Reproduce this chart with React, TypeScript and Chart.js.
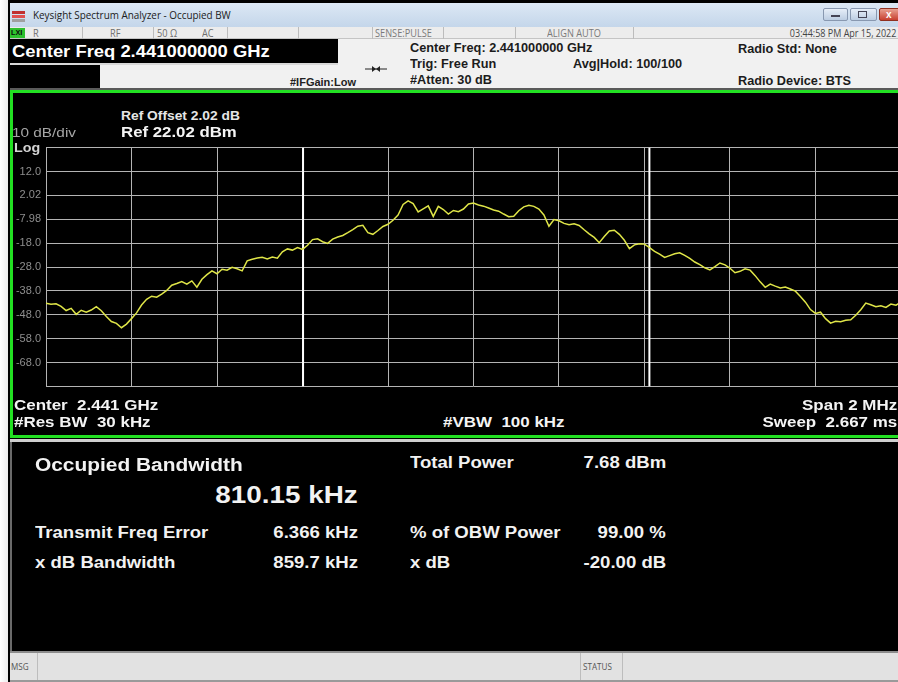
import React, { useEffect, useRef } from "react";
import { Chart, registerables } from "chart.js";

Chart.register(...registerables);

const START_FREQ_MHZ = 2440.0;
const STOP_FREQ_MHZ = 2442.0;
const CENTER_FREQ_MHZ = 2441.0;
const REF_LEVEL_DBM = 22.02;
const BOTTOM_LEVEL_DBM = -77.98;
const X_GRID_MHZ = [2440.0, 2440.2, 2440.4, 2440.6, 2440.8, 2441.0, 2441.2, 2441.4, 2441.6, 2441.8, 2442.0];
const Y_GRID_DBM = [22.02, 12.02, 2.02, -7.98, -17.98, -27.98, -37.98, -47.98, -57.98, -67.98, -77.98];
const Y_TICK_LABELS = ["", "12.0", "2.02", "-7.98", "-18.0", "-28.0", "-38.0", "-48.0", "-58.0", "-68.0", ""];
const OBW_KHZ = 810.15;
const FREQ_ERROR_KHZ = 6.366;

const TRACE_DBM = [
  -43.2, -43.6, -43.4, -44.5, -46.2, -45.3, -47.8, -46.1, -46.9, -46.0,
  -44.6, -46.3, -48.7, -50.8, -51.6, -53.4, -51.9, -49.6, -47.2, -43.9,
  -41.5, -40.2, -40.6, -39.3, -37.8, -35.6, -34.9, -34.1, -35.2, -33.8,
  -36.4, -33.1, -31.2, -29.6, -30.8, -28.9, -29.3, -28.1, -28.7, -29.6,
  -25.4, -24.7, -24.2, -23.9, -24.6, -23.8, -24.3, -21.6, -20.4, -20.9,
  -19.8, -20.6, -18.9, -16.5, -16.2, -17.4, -18.1, -16.3, -15.4, -14.8,
  -13.6, -12.3, -10.9, -10.5, -13.6, -14.3, -12.7, -11.0, -10.1, -8.4,
  -6.2, -1.8, -0.3, -1.4, -4.9, -3.6, -2.4, -6.8, -2.6, -3.9,
  -5.8, -4.3, -4.8, -3.7, -1.6, -1.2, -2.0, -2.5, -3.3, -4.1,
  -4.6, -5.8, -6.9, -6.7, -4.4, -2.8, -2.1, -2.6, -3.7, -6.2,
  -10.9, -8.1, -8.6, -9.7, -10.3, -9.9, -10.6, -12.4, -14.1, -15.6,
  -17.8, -15.2, -12.9, -12.6, -14.3, -16.8, -20.3, -18.7, -18.2, -18.4,
  -19.9, -21.4, -22.6, -24.0, -23.2, -22.4, -22.0, -23.1, -24.4, -25.9,
  -27.0, -28.3, -29.2, -27.8, -26.3, -27.1, -28.5, -30.4, -29.8, -28.7,
  -29.3, -31.6, -34.2, -36.5, -35.1, -36.0, -36.8, -36.4, -37.2, -38.1,
  -40.3, -42.7, -45.8, -47.4, -46.9, -49.6, -51.5, -50.7, -50.9, -50.3,
  -50.1, -48.2, -45.9, -43.1, -43.8, -44.6, -44.2, -44.9, -43.5, -44.0,
  -42.7,
];

const ARIAL = "'Liberation Sans', Arial, sans-serif";
const UI = "'Open Sans', 'Noto Sans', sans-serif";

type TProps = {
  x: number;
  y: number;
  size: number;
  bold?: boolean;
  color?: string;
  right?: boolean;
  sx?: number;
  family?: string;
  children: React.ReactNode;
};

function T({ x, y, size, bold = true, color = "#f2f2f2", right = false, sx = 1.14, family = ARIAL, children }: TProps) {
  const style: React.CSSProperties = {
    position: "absolute",
    top: y - size * 0.5,
    fontSize: size,
    lineHeight: `${size}px`,
    fontWeight: bold ? 700 : 400,
    color,
    fontFamily: family,
    whiteSpace: "nowrap",
    transform: `scaleX(${sx})`,
    transformOrigin: right ? "right center" : "left center",
  };
  if (right) style.right = 898 - x;
  else style.left = x;
  return <div style={style}>{children}</div>;
}

function Box({ l, t, w, h, bg, extra }: { l: number; t: number; w: number; h: number; bg: string; extra?: React.CSSProperties }) {
  return <div style={{ position: "absolute", left: l, top: t, width: w, height: h, background: bg, boxSizing: "border-box", ...extra }} />;
}

export default function App() {
  const ref = useRef<HTMLCanvasElement>(null);

  useEffect(() => {
    const canvas = ref.current;
    if (!canvas) return;
    const step = (STOP_FREQ_MHZ - START_FREQ_MHZ) / (TRACE_DBM.length - 1);
    const trace = TRACE_DBM.map((y, i) => ({ x: START_FREQ_MHZ + i * step, y }));
    const obwCenter = CENTER_FREQ_MHZ + FREQ_ERROR_KHZ / 1000;
    const obwLeft = obwCenter - OBW_KHZ / 2000;
    const obwRight = obwCenter + OBW_KHZ / 2000;
    const vline = (f: number) => [
      { x: f, y: BOTTOM_LEVEL_DBM },
      { x: f, y: REF_LEVEL_DBM },
    ];
    const gridColor = "#b4b4b4";
    const chart = new Chart(canvas, {
      type: "line",
      data: {
        datasets: [
          { data: trace, borderColor: "#dfe548", borderWidth: 1.5, pointRadius: 0, tension: 0 },
          { data: vline(obwLeft), borderColor: "#ffffff", borderWidth: 2, pointRadius: 0 },
          { data: vline(obwRight), borderColor: "#ffffff", borderWidth: 2, pointRadius: 0 },
        ],
      },
      options: {
        animation: false,
        responsive: false,
        maintainAspectRatio: false,
        layout: { padding: { top: 7.5, bottom: 6.5, right: 3, left: 0 } },
        plugins: { legend: { display: false }, tooltip: { enabled: false } },
        scales: {
          x: {
            type: "linear",
            min: START_FREQ_MHZ,
            max: STOP_FREQ_MHZ,
            afterBuildTicks: (s: any) => {
              s.ticks = X_GRID_MHZ.map((v) => ({ value: v }));
            },
            afterFit: (s: any) => {
              s.height = 0;
            },
            ticks: { display: false },
            grid: { color: gridColor, lineWidth: 1, drawTicks: false },
            border: { display: false },
          },
          y: {
            type: "linear",
            min: BOTTOM_LEVEL_DBM,
            max: REF_LEVEL_DBM,
            afterBuildTicks: (s: any) => {
              s.ticks = Y_GRID_DBM.map((v) => ({ value: v }));
            },
            afterFit: (s: any) => {
              s.width = 34;
            },
            ticks: {
              autoSkip: false,
              padding: 5,
              color: "#8e8e8e",
              font: { size: 11, family: ARIAL },
              callback: (v: any) => {
                const i = Y_GRID_DBM.findIndex((l) => Math.abs(l - Number(v)) < 1e-6);
                return i >= 0 ? Y_TICK_LABELS[i] : "";
              },
            },
            grid: { color: gridColor, lineWidth: 1, drawTicks: false },
            border: { display: false },
          },
        },
      },
    });
    return () => chart.destroy();
  }, []);

  const dividers = [82, 153, 227, 298, 372, 443, 515, 633];

  return (
    <div style={{ position: "absolute", left: 0, top: 0, width: 898, height: 682, overflow: "hidden", background: "#f6f6f6" }}>
      {/* left white margin and black frame */}
      <Box l={0} t={0} w={8} h={682} bg="linear-gradient(90deg,#ffffff,#ececec)" />
      <Box l={8} t={0} w={890} h={682} bg="#000" />
      {/* title bar */}
      <Box l={10} t={3} w={888} h={24} bg="linear-gradient(#dce8f5,#c4d6ea)" />
      <Box l={12} t={11} w={13} h={3} bg="#c03030" />
      <Box l={12} t={15} w={13} h={3} bg="#e05050" />
      <Box l={12} t={19} w={13} h={3} bg="#a0a0a0" />
      <T x={33} y={15} size={11.5} bold={false} color="#202020" family={UI} sx={0.86}>
        Keysight Spectrum Analyzer - Occupied BW
      </T>
      <Box l={823} t={8} w={25} h={13} bg="linear-gradient(#e6eef8,#bccde2)" extra={{ border: "1px solid #8898b0", borderRadius: 2 }} />
      <Box l={831} t={15} w={9} h={2} bg="#445" />
      <Box l={850} t={8} w={27} h={13} bg="linear-gradient(#e6eef8,#bccde2)" extra={{ border: "1px solid #8898b0", borderRadius: 2 }} />
      <Box l={858} t={11} w={9} h={7} bg="transparent" extra={{ border: "1px solid #445" }} />
      <Box l={879} t={8} w={22} h={13} bg="linear-gradient(#e8a090,#c84030)" extra={{ border: "1px solid #903020", borderRadius: 2 }} />
      <T x={886} y={14.5} size={10} color="#ffffff" sx={1}>x</T>
      {/* status row */}
      <Box l={10} t={27} w={888} h={12} bg="#ececec" extra={{ borderBottom: "1px solid #c4c4c4" }} />
      {dividers.map((d) => (
        <Box key={d} l={d} t={27} w={1} h={12} bg="#bcbcbc" />
      ))}
      <Box l={10} t={28} w={15} h={10} bg="#2ec02e" />
      <T x={11} y={33.3} size={8} color="#0a0a0a" sx={0.9}>LXI</T>
      <T x={33} y={33} size={10} bold={false} color="#6e6e6e" family={UI} sx={0.92}>R</T>
      <T x={110} y={33} size={10} bold={false} color="#6e6e6e" family={UI} sx={0.92}>RF</T>
      <T x={157} y={33} size={10} bold={false} color="#6e6e6e" family={UI} sx={0.92}>50 Ω</T>
      <T x={202} y={33} size={10} bold={false} color="#6e6e6e" family={UI} sx={0.92}>AC</T>
      <T x={375} y={33} size={10} bold={false} color="#7a7a7a" family={UI} sx={0.92}>SENSE:PULSE</T>
      <T x={547} y={33} size={10} bold={false} color="#7a7a7a" family={UI} sx={0.92}>ALIGN AUTO</T>
      <T x={896} y={33} size={10} bold={false} color="#444" family={UI} sx={0.9} right>
        03:44:58 PM Apr 15, 2022
      </T>
      {/* info panel */}
      <Box l={10} t={39} w={888} h={49} bg="#f1f1f1" />
      <Box l={10} t={39} w={328} h={24} bg="#000" />
      <Box l={10} t={63} w={328} h={2} bg="#d8d8d8" />
      <Box l={10} t={65} w={90} h={23} bg="#000" />
      <Box l={10} t={88} w={888} h={2} bg="#5a5a5a" />
      <T x={12} y={52} size={16} color="#ffffff" sx={1.15}>Center Freq 2.441000000 GHz</T>
      <T x={290} y={82} size={11} color="#222" sx={1.0}>#IFGain:Low</T>
      <svg style={{ position: "absolute", left: 364, top: 64 }} width={24} height={10}>
        <line x1={1} y1={5} x2={23} y2={5} stroke="#222" strokeWidth={1} />
        <polygon points="8,2 12,5 8,8" fill="#222" />
        <polygon points="16,2 12,5 16,8" fill="#222" />
      </svg>
      <T x={410} y={48} size={12} color="#1c1c1c" sx={1.06}>Center Freq: 2.441000000 GHz</T>
      <T x={410} y={64} size={12} color="#1c1c1c" sx={1.06}>Trig: Free Run</T>
      <T x={410} y={80} size={12} color="#1c1c1c" sx={1.06}>#Atten: 30 dB</T>
      <T x={573} y={64} size={12} color="#1c1c1c" sx={1.06}>Avg|Hold: 100/100</T>
      <T x={738} y={49} size={12} color="#1c1c1c" sx={1.06}>Radio Std: None</T>
      <T x={738} y={81} size={12} color="#1c1c1c" sx={1.06}>Radio Device: BTS</T>
      {/* green framed trace window */}
      <Box l={10} t={90} w={900} h={348} bg="#000" extra={{ border: "3px solid #22e022" }} />
      <canvas
        ref={ref}
        width={892}
        height={262}
        style={{ position: "absolute", left: 12, top: 136, width: 892, height: 262, display: "block" }}
      />
      <T x={121} y={116} size={12} color="#e6e6e6" sx={1.15}>Ref Offset 2.02 dB</T>
      <T x={121} y={131} size={15} color="#f4f4f4" sx={1.12}>Ref 22.02 dBm</T>
      <T x={12} y={132} size={13} bold={false} color="#a6a6a6" sx={1.18}>10 dB/div</T>
      <T x={14} y={147} size={13} color="#d4d4d4" sx={1.1}>Log</T>
      <T x={14} y={404} size={15} color="#f4f4f4" sx={1.13}>Center&nbsp; 2.441 GHz</T>
      <T x={14} y={421} size={15} color="#f4f4f4" sx={1.13}>#Res BW&nbsp; 30 kHz</T>
      <T x={443} y={421} size={15} color="#f4f4f4" sx={1.13}>#VBW&nbsp; 100 kHz</T>
      <T x={897} y={404} size={15} color="#f4f4f4" sx={1.13} right>Span 2 MHz</T>
      <T x={897} y={421} size={15} color="#f4f4f4" sx={1.13} right>Sweep&nbsp; 2.667 ms</T>
      {/* lower results panel */}
      <Box l={10} t={439} w={888} h={3} bg="#cfcfcf" />
      <Box l={10} t={442} w={888} h={209} bg="#000" extra={{ borderLeft: "2px solid #6a6a6a" }} />
      <T x={35} y={465} size={18} sx={1.16}>Occupied Bandwidth</T>
      <T x={358} y={495} size={24} sx={1.16} right>810.15 kHz</T>
      <T x={35} y={533} size={16} sx={1.16}>Transmit Freq Error</T>
      <T x={358} y={533} size={16} sx={1.16} right>6.366 kHz</T>
      <T x={35} y={563} size={16} sx={1.16}>x dB Bandwidth</T>
      <T x={358} y={563} size={16} sx={1.16} right>859.7 kHz</T>
      <T x={410} y={463} size={16} sx={1.16}>Total Power</T>
      <T x={666} y={463} size={16} sx={1.16} right>7.68 dBm</T>
      <T x={410} y={533} size={16} sx={1.16}>% of OBW Power</T>
      <T x={666} y={533} size={16} sx={1.16} right>99.00 %</T>
      <T x={410} y={563} size={16} sx={1.16}>x dB</T>
      <T x={666} y={563} size={16} sx={1.16} right>-20.00 dB</T>
      {/* bottom status bar */}
      <Box l={10} t={651} w={888} h={31} bg="#e2e2e2" extra={{ borderTop: "2px solid #8c8c8c", borderBottom: "2px solid #9a9a9a" }} />
      <Box l={37} t={653} w={1} h={27} bg="#bdbdbd" />
      <Box l={580} t={653} w={1} h={27} bg="#bdbdbd" />
      <Box l={622} t={653} w={1} h={27} bg="#bdbdbd" />
      <T x={11} y={666} size={9} bold={false} color="#555" family={UI} sx={0.9}>MSG</T>
      <T x={583} y={666} size={9} bold={false} color="#555" family={UI} sx={0.9}>STATUS</T>
    </div>
  );
}
